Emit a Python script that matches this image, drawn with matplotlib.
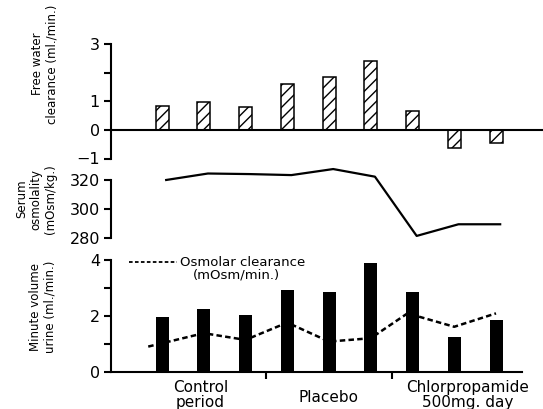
import numpy as np
import matplotlib
matplotlib.use("Agg")
import matplotlib.pyplot as plt
from matplotlib.lines import Line2D

# ---- data ----
days = [0, 1, 2, 3, 4, 5, 6, 7, 8]
free_water = [0.84, 0.96, 0.81, 1.60, 1.84, 2.39, 0.65, -0.63, -0.45]
serum_osm = [320.0, 324.5, 324.1, 323.4, 327.6, 322.3, 281.1, 289.2, 289.2]
urine_volume = [1.95, 2.25, 2.04, 2.93, 2.85, 3.91, 2.85, 1.25, 1.85]
osmolar_x = [-0.33, 1, 2, 3, 4, 5, 5.88, 7, 8]
osmolar_clearance = [0.90, 1.38, 1.14, 1.76, 1.08, 1.20, 2.09, 1.61, 2.09]
group_labels = ["Control\nperiod", "Placebo", "Chlorpropamide\n500mg. day"]
group_split = [2.5, 5.5]

plt.rcParams['font.family'] = ['DejaVu Sans']
plt.rcParams['hatch.linewidth'] = 1.0

W, H = 543, 409
fig = plt.figure(figsize=(W / 100, H / 100), dpi=100)


def fx(px):
    return px / W


def fy(py):
    return 1 - py / H


X0, STEP = 162.0, 41.75  # pixel of day 0, pixels per day
xlim = ((111 - X0) / STEP, (543 - X0) / STEP)
BW = 13 / STEP
LW = 1.5


def make_axes(top_px, bottom_px):
    ax = fig.add_axes([fx(111), fy(bottom_px), 1 - fx(111), (bottom_px - top_px) / H])
    ax.set_xlim(*xlim)
    for s in ['top', 'right', 'bottom']:
        ax.spines[s].set_visible(False)
    ax.spines['left'].set_linewidth(LW)
    ax.tick_params(axis='y', direction='out', length=5, width=LW, labelsize=11.5, pad=3)
    ax.set_xticks([])
    ax.patch.set_alpha(0)
    return ax


# ---- top: free water clearance ----
ax1 = make_axes(44, 158.5)
ax1.set_ylim(-1, 3)
ax1.spines['left'].set_bounds(-1, 3)
ax1.bar(days, free_water, width=BW, color='white', edgecolor='black',
        linewidth=1.1, hatch='///', zorder=2)
ax1.axhline(0, color='black', lw=LW, zorder=3)
ax1.set_yticks([-1, 0, 1, 2, 3])
ax1.set_yticklabels(['\u22121', '0', '1', '', '3'])

# ---- middle: serum osmolality ----
ax2 = make_axes(165.6, 237.5)
ax2.set_ylim(280, 330)
ax2.spines['left'].set_bounds(280, 320)
ax2.plot(np.array(days) + 0.1, serum_osm, color='black', lw=1.6)
ax2.set_yticks([280, 300, 320])

# ---- bottom: minute volume urine ----
ax3 = make_axes(251.7, 371.7)
ax3.set_ylim(0, 4.3)
ax3.spines['left'].set_bounds(0, 4)
ax3.spines['bottom'].set_visible(True)
ax3.spines['bottom'].set_linewidth(LW)
ax3.spines['bottom'].set_bounds(xlim[0], (522 - X0) / STEP)
ax3.bar(days, urine_volume, width=BW, color='black', zorder=2)
ax3.plot(osmolar_x, osmolar_clearance, color='black', lw=1.8,
         linestyle=(0, (2.2, 1.3)), zorder=3)
ax3.set_yticks([0, 1, 2, 3, 4])
ax3.set_yticklabels(['0', '', '2', '', '4'])
ax3.set_xticks(group_split)
ax3.set_xticklabels(['', ''])
ax3.tick_params(axis='x', direction='out', length=5, width=LW)

# group labels
label_x = [0.92, 3.98, 7.33]
label_y = [395, 397, 395]
for lx, ly, txt in zip(label_x, label_y, group_labels):
    fig.text(fx(X0 + lx * STEP), fy(ly), txt, ha='center', va='center',
             fontsize=11, linespacing=0.95, multialignment='center')

# legend (manual)
fig.add_artist(Line2D([fx(129), fx(177)], [fy(262), fy(262)], color='black',
                      lw=1.3, linestyle=(0, (2.0, 1.3))))
fig.text(fx(180), fy(262), "Osmolar clearance", ha='left', va='center', fontsize=9.5)
fig.text(fx(236), fy(275.5), "(mOsm/min.)", ha='center', va='center', fontsize=9.5)

# y labels
fig.text(fx(45), fy(64), "Free water\nclearance (ml./min.)", rotation=90,
         ha='center', va='center', fontsize=8.5, linespacing=1.15,
         multialignment='center')
fig.text(fx(36), fy(199), "Serum\nosmolality\n(mOsm/kg.)", rotation=90,
         ha='center', va='center', fontsize=8.5, linespacing=1.15,
         multialignment='center')
fig.text(fx(43), fy(307), "Minute volume\nurine (ml./min.)", rotation=90,
         ha='center', va='center', fontsize=8.5, linespacing=1.15,
         multialignment='center')

fig.savefig("out.png", dpi=100)
